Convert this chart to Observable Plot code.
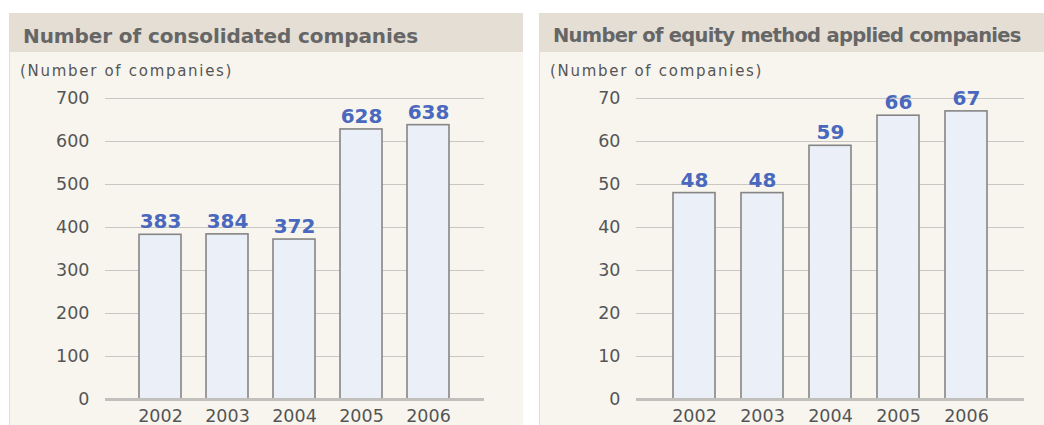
<!DOCTYPE html>
<html><head><meta charset="utf-8">
<script src="https://cdn.jsdelivr.net/npm/d3@7"></script>
<script src="https://cdn.jsdelivr.net/npm/@observablehq/plot@0.6"></script>
<style>
html,body{margin:0;padding:0;background:#fff;width:1044px;height:425px;overflow:hidden;}
.panel{position:absolute;top:13px;height:420px;background:#f8f5ef;border-left:1px solid #e2dcd2;}
.head{position:absolute;left:0;top:0;right:0;height:39px;background:#e4ded5;}
.head span{position:absolute;left:13px;top:11px;font:bold 20px "DejaVu Sans",sans-serif;color:#666;white-space:nowrap;letter-spacing:-0.1px;}
.unit{position:absolute;left:10px;top:49px;font:15px "DejaVu Sans",sans-serif;color:#555;letter-spacing:1.7px;white-space:nowrap;}
.chart{position:absolute;top:39px;}
</style></head>
<body>
<div class="panel" id="p1" style="left:9px;width:513px"><div class="head"><span>Number of consolidated companies</span></div><div class="unit">(Number of companies)</div><div class="chart" id="c1"></div></div>
<div class="panel" id="p2" style="left:539px;width:520px"><div class="head"><span style="font-size:19.5px;letter-spacing:-0.7px">Number of equity method applied companies</span></div><div class="unit">(Number of companies)</div><div class="chart" id="c2"></div></div>
<script>
const years = ["2002","2003","2004","2005","2006"];
const consolidated = [383, 384, 372, 628, 638];
const equityMethod = [48, 48, 59, 66, 67];
const ticksLeft = [0,100,200,300,400,500,600,700];
const ticksRight = [0,10,20,30,40,50,60,70];

function chart(values, ticks, opts) {
  const data = years.map((y,i)=>({year:y, value:values[i]}));
  return Plot.plot({
    width: opts.width, height: 373,
    marginTop: 46, marginBottom: 26, marginLeft: opts.ml, marginRight: opts.mr,
    style: {background: "transparent", fontFamily: "DejaVu Sans, sans-serif", color: "#555", overflow: "visible"},
    x: {domain: years, paddingInner: opts.pi, paddingOuter: opts.po, label: null},
    y: {domain: [0, ticks[ticks.length-1]], ticks: ticks, label: null},
    marks: [
      Plot.ruleY(ticks.filter(t=>t>0), {stroke: "#c9c7c2", strokeWidth: 1.2}),
      Plot.barY(data, {x: "year", y: "value", fill: "#ebeff7", stroke: "#858585", strokeWidth: 1.6}),
      Plot.ruleY([0], {stroke: "#c2c0bc", strokeWidth: 3}),
      Plot.text(data, {x: "year", y: "value", text: d=>String(d.value), dy: -13, fill: "#4a68bd", fontWeight: "bold", fontSize: 20}),
      Plot.axisX({tickSize: 0, tickPadding: 10, fontSize: 17.5, fill: "#555", label: null}),
      Plot.axisY({ticks: ticks, tickSize: 0, tickPadding: 16, fontSize: 17.5, fill: "#555", label: null})
    ]
  });
}
document.getElementById("c1").append(chart(consolidated, ticksLeft, {width: 513, ml: 95, mr: 39, pi: 0.373, po: 0.51}));
document.getElementById("c2").append(chart(equityMethod, ticksRight, {width: 505, ml: 96, mr: 21, pi: 0.38, po: 0.53}));
</script>
</body></html>
